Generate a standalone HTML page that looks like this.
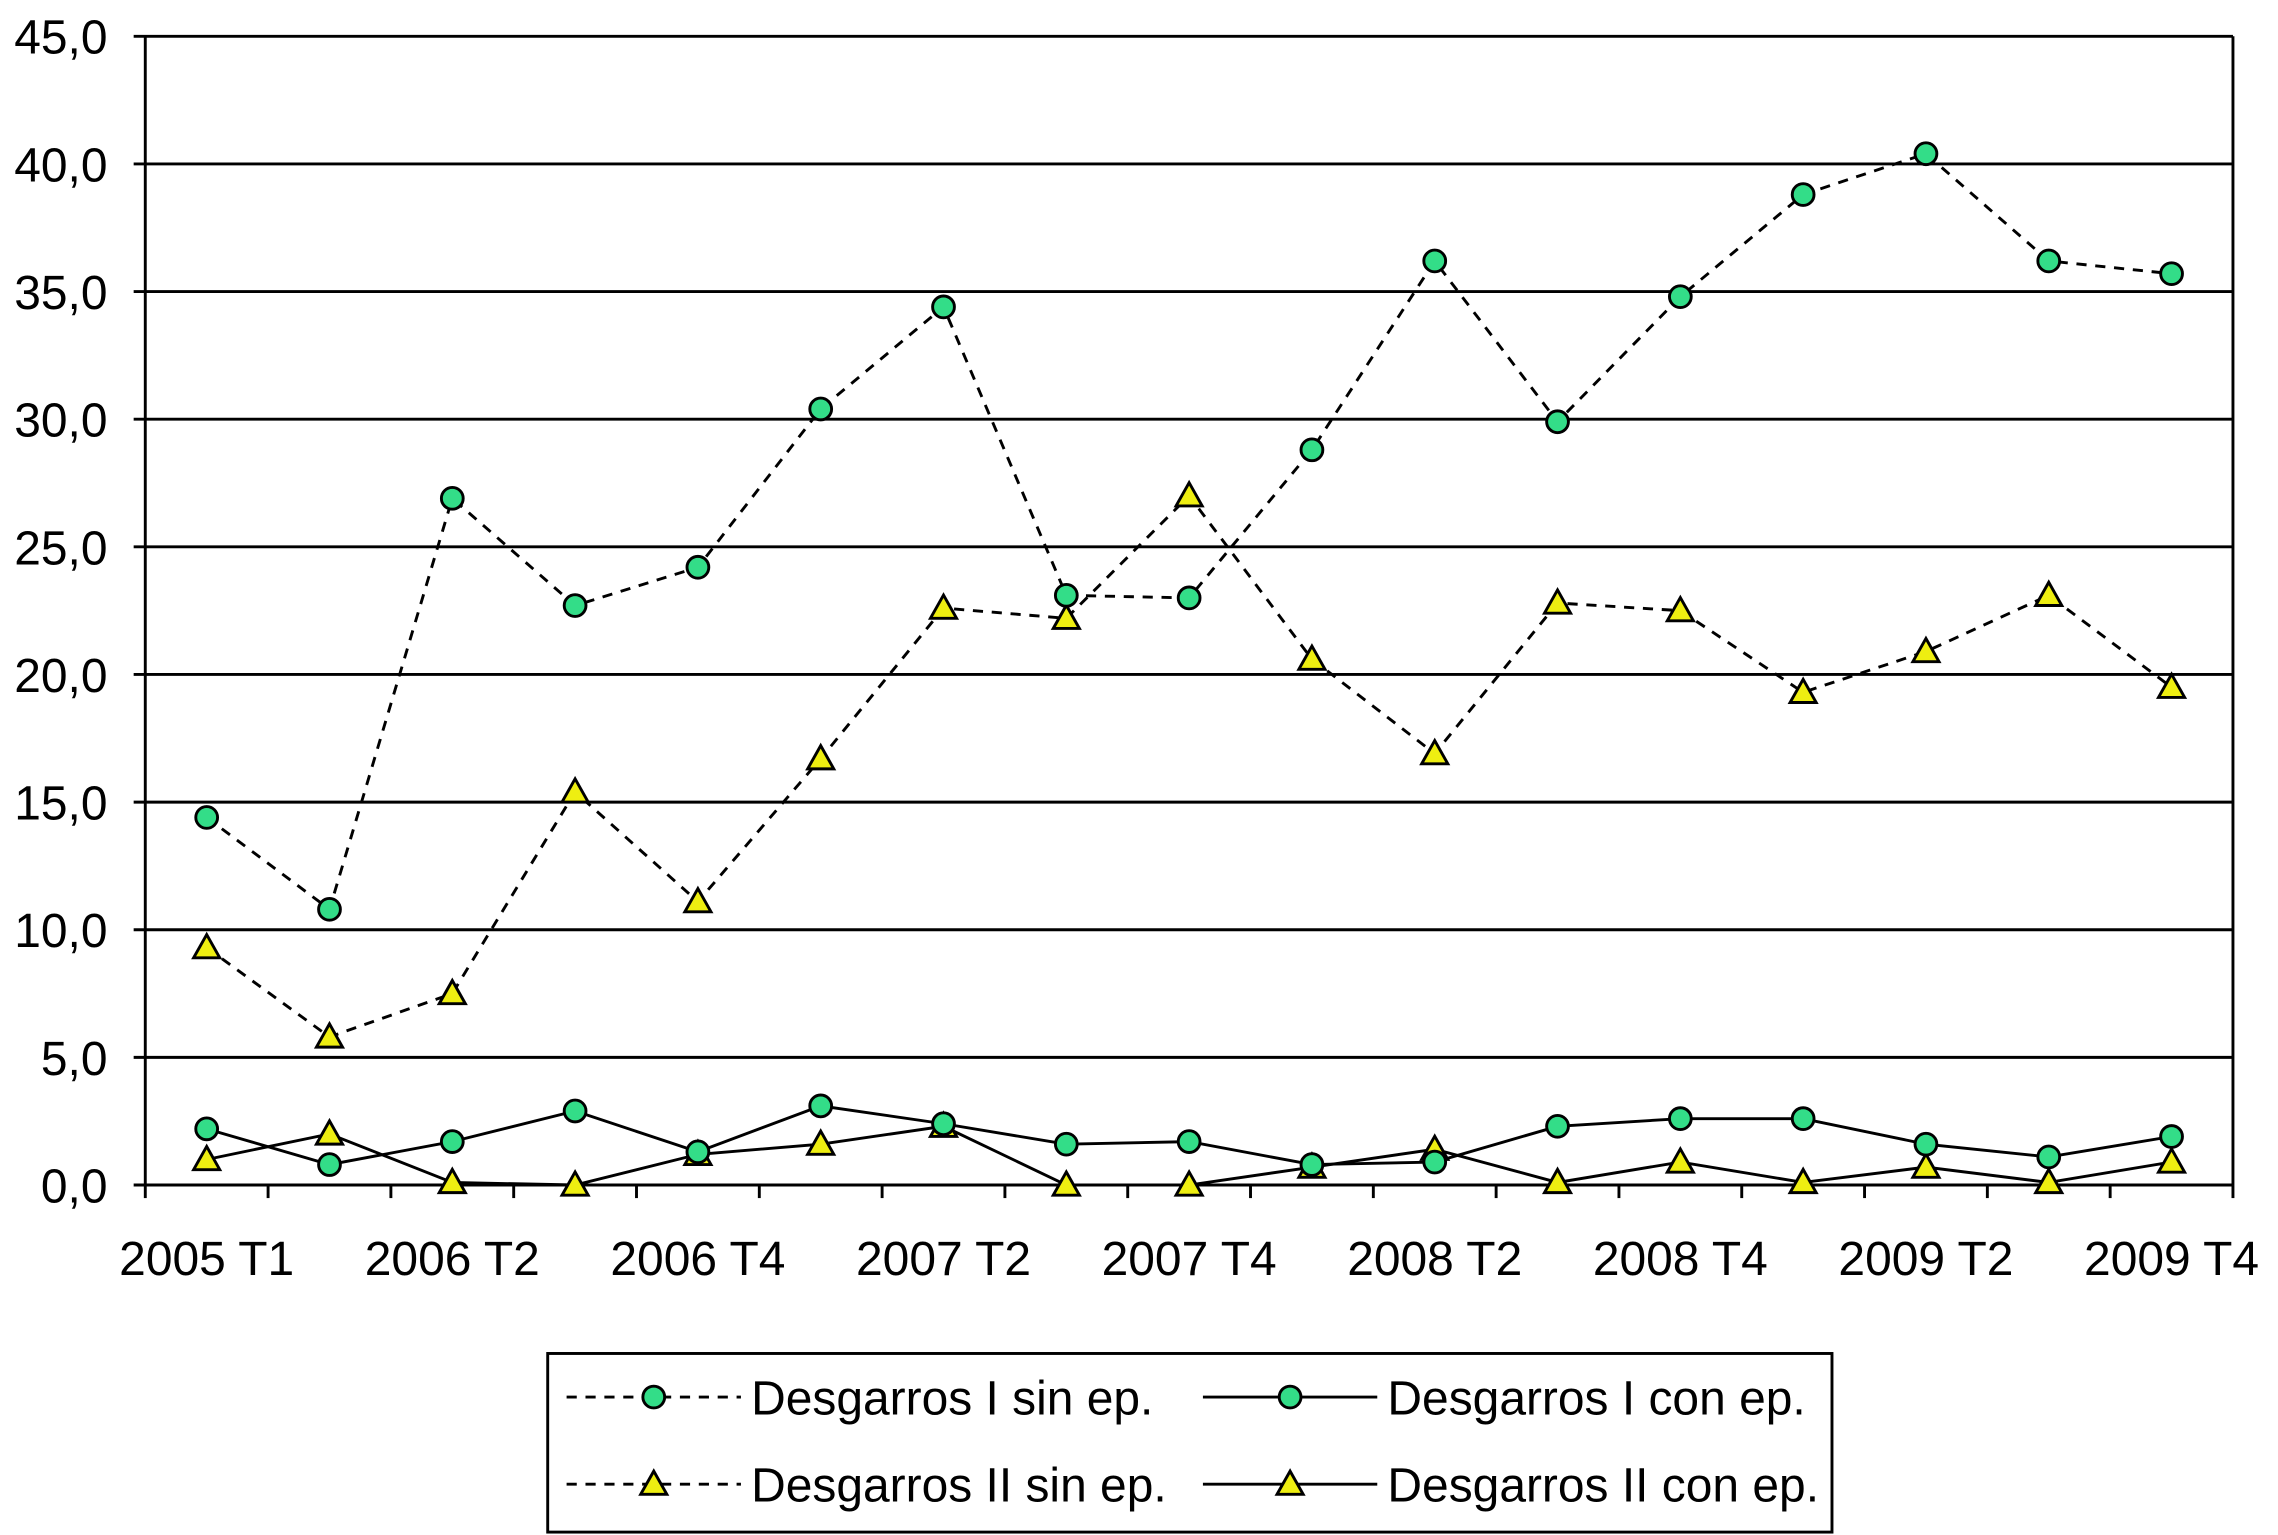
<!DOCTYPE html>
<html><head><meta charset="utf-8"><style>html,body{margin:0;padding:0;background:#fff}svg{display:block}</style></head>
<body>
<svg id="chart" width="2278" height="1535" viewBox="0 0 1568 1057" preserveAspectRatio="none" xmlns="http://www.w3.org/2000/svg" font-family="Liberation Sans, Arial, sans-serif"></svg>
<script>
const categories=["2005 T1","2006 T1","2006 T2","2006 T3","2006 T4","2007 T1","2007 T2","2007 T3","2007 T4","2008 T1","2008 T2","2008 T3","2008 T4","2009 T1","2009 T2","2009 T3","2009 T4"];
const d1Sin=[14.4,10.8,26.9,22.7,24.2,30.4,34.4,23.1,23.0,28.8,36.2,29.9,34.8,38.8,40.4,36.2,35.7];
const d2Sin=[9.3,5.8,7.5,15.4,11.1,16.7,22.6,22.2,27.0,20.6,16.9,22.8,22.5,19.3,20.9,23.1,19.5];
const d1Con=[2.2,0.8,1.7,2.9,1.3,3.1,2.4,1.6,1.7,0.8,0.9,2.3,2.6,2.6,1.6,1.1,1.9];
const d2Con=[1.0,2.0,0.1,0.0,1.2,1.6,2.3,0.0,0.0,0.7,1.4,0.1,0.9,0.1,0.7,0.1,0.9];
const yTicks=[0,5,10,15,20,25,30,35,40,45];
const xLabelIdx=[0,2,4,6,8,10,12,14,16];

const svg=document.getElementById('chart');
const NS='http://www.w3.org/2000/svg';
const L=100,R=1537,T=25,B=816,yMax=45;
const bw=(R-L)/categories.length;
const X=i=>L+bw*(i+0.5);
const Y=v=>B-(v/yMax)*(B-T);
function mk(tag,attrs,parent){const e=document.createElementNS(NS,tag);for(const k in attrs)e.setAttribute(k,attrs[k]);(parent||svg).appendChild(e);return e;}

yTicks.forEach(t=>{
  const g=mk('line',{x1:L-8,x2:R,y1:Y(t),y2:Y(t),stroke:'#000','stroke-width':2});
  
  
  const lb=mk('text',{x:L-26,y:Y(t)+12,'text-anchor':'end','font-size':33});
  lb.textContent=t.toFixed(1).replace('.',',');
  
  
});
const ax=mk('line',{x1:L,x2:L,y1:T,y2:B,stroke:'#000','stroke-width':2});


const rb=mk('line',{x1:R,x2:R,y1:T,y2:B,stroke:'#000','stroke-width':2});


for(let i=0;i<=categories.length;i++){
  const tk=mk('line',{x1:L+bw*i,x2:L+bw*i,y1:B,y2:B+9,stroke:'#000','stroke-width':2});
  
  
}
xLabelIdx.forEach(i=>{
  const lb=mk('text',{x:X(i),y:B+62,'text-anchor':'middle','font-size':33});
  lb.textContent=categories[i];
  
  
});

function marker(x,y,type,parent){
  if(type==='c') return mk('circle',{cx:x,cy:y,r:7.5,fill:'#33dd88',stroke:'#000','stroke-width':2},parent);
  return mk('polygon',{points:`${x},${y-9} ${x-9},${y+7} ${x+9},${y+7}`,fill:'#eeee11',stroke:'#000','stroke-width':2},parent);
}
function series(data,type,dash,name){
  const g=mk('g',{});
  
  
  const pts=data.map((v,i)=>X(i)+','+Y(v)).join(' ');
  mk('polyline',{points:pts,fill:'none',stroke:'#000','stroke-width':2,'stroke-dasharray':dash?'7,6':'none'},g);
  data.forEach((v,i)=>{const m=marker(X(i),Y(v),type,g);});
}
series(d2Con,'t',false,'series-desgarros-ii-con-ep');
series(d1Con,'c',false,'series-desgarros-i-con-ep');
series(d2Sin,'t',true,'series-desgarros-ii-sin-ep');
series(d1Sin,'c',true,'series-desgarros-i-sin-ep');

const lg=mk('g',{});


mk('rect',{x:377,y:932,width:884,height:123,fill:'#fff',stroke:'#000','stroke-width':2},lg);
const entries=[[390,962,'c',true,'Desgarros I sin ep.'],[828,962,'c',false,'Desgarros I con ep.'],[390,1022,'t',true,'Desgarros II sin ep.'],[828,1022,'t',false,'Desgarros II con ep.']];
entries.forEach(e=>{
  const g=mk('g',{},lg);
  
  
  mk('line',{x1:e[0],x2:e[0]+120,y1:e[1],y2:e[1],stroke:'#000','stroke-width':2,'stroke-dasharray':e[3]?'7,6':'none'},g);
  marker(e[0]+60,e[1],e[2],g);
  const t=mk('text',{x:e[0]+127,y:e[1]+12,'font-size':33},g);
  t.textContent=e[4];
});
</script>
</body></html>
